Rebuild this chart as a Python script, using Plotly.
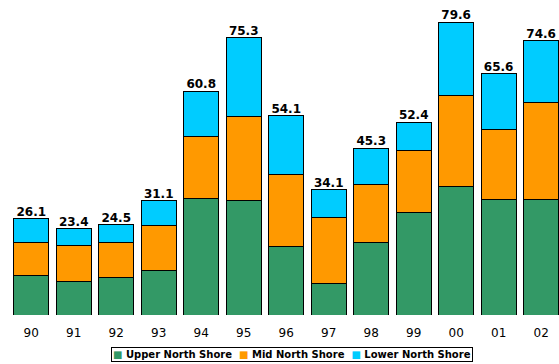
import plotly.graph_objects as go

years = ["90", "91", "92", "93", "94", "95", "96", "97", "98", "99", "00", "01", "02"]
upper = [10.8, 9.2, 10.2, 12.1, 31.7, 31.0, 18.7, 8.5, 19.8, 27.9, 35.0, 31.3, 31.3]
mid = [9.0, 9.6, 9.4, 12.2, 16.7, 23.0, 19.5, 17.9, 15.7, 16.8, 24.7, 19.2, 26.5]
lower = [6.3, 4.6, 4.9, 6.8, 12.4, 21.3, 15.9, 7.7, 9.8, 7.7, 19.9, 15.1, 16.8]
totals = [26.1, 23.4, 24.5, 31.1, 60.8, 75.3, 54.1, 34.1, 45.3, 52.4, 79.6, 65.6, 74.6]

names = ["Upper North Shore", "Mid North Shore", "Lower North Shore"]
colors = ["#339966", "#FF9900", "#00CCFF"]
values = [upper, mid, lower]

fig = go.Figure()
for name, vals, col in zip(names, values, colors):
    fig.add_trace(go.Bar(
        x=years, y=vals, name=name, showlegend=False,
        marker=dict(color=col, line=dict(color="#000000", width=1)),
    ))

fig.add_trace(go.Scatter(
    x=years, y=totals, mode="text",
    text=[f"{v:.1f}" for v in totals],
    textposition="top center",
    textfont=dict(family="DejaVu Sans", size=12, color="#000000", weight="bold"),
    showlegend=False, hoverinfo="skip",
))

legend_text = "  ".join(
    f"<span style='color:{c}'>■</span> {n}" for n, c in zip(names, colors)
)
fig.add_annotation(
    text=f"<b>{legend_text}</b>",
    xref="paper", yref="paper", x=0.514, y=-0.1295,
    xanchor="center", yanchor="middle", showarrow=False,
    font=dict(family="DejaVu Sans", size=10, color="#000000"),
    bordercolor="#000000", borderwidth=1, borderpad=1, bgcolor="white",
)

fig.update_layout(
    width=559, height=364,
    barmode="stack", bargap=0.18,
    showlegend=False,
    paper_bgcolor="white", plot_bgcolor="white",
    margin=dict(l=10, r=0, t=10, b=49, autoexpand=False),
    font=dict(family="DejaVu Sans", size=12, color="#000000"),
    xaxis=dict(range=[-0.5, 12.42], showgrid=False, zeroline=False, showline=False,
               ticks="outside", ticklen=7, tickcolor="rgba(0,0,0,0)",
               tickfont=dict(family="DejaVu Sans", size=12, color="#000000")),
    yaxis=dict(range=[0, 82.9], showgrid=False, zeroline=False, showline=False,
               showticklabels=False),
)

fig.write_html("out.html")
